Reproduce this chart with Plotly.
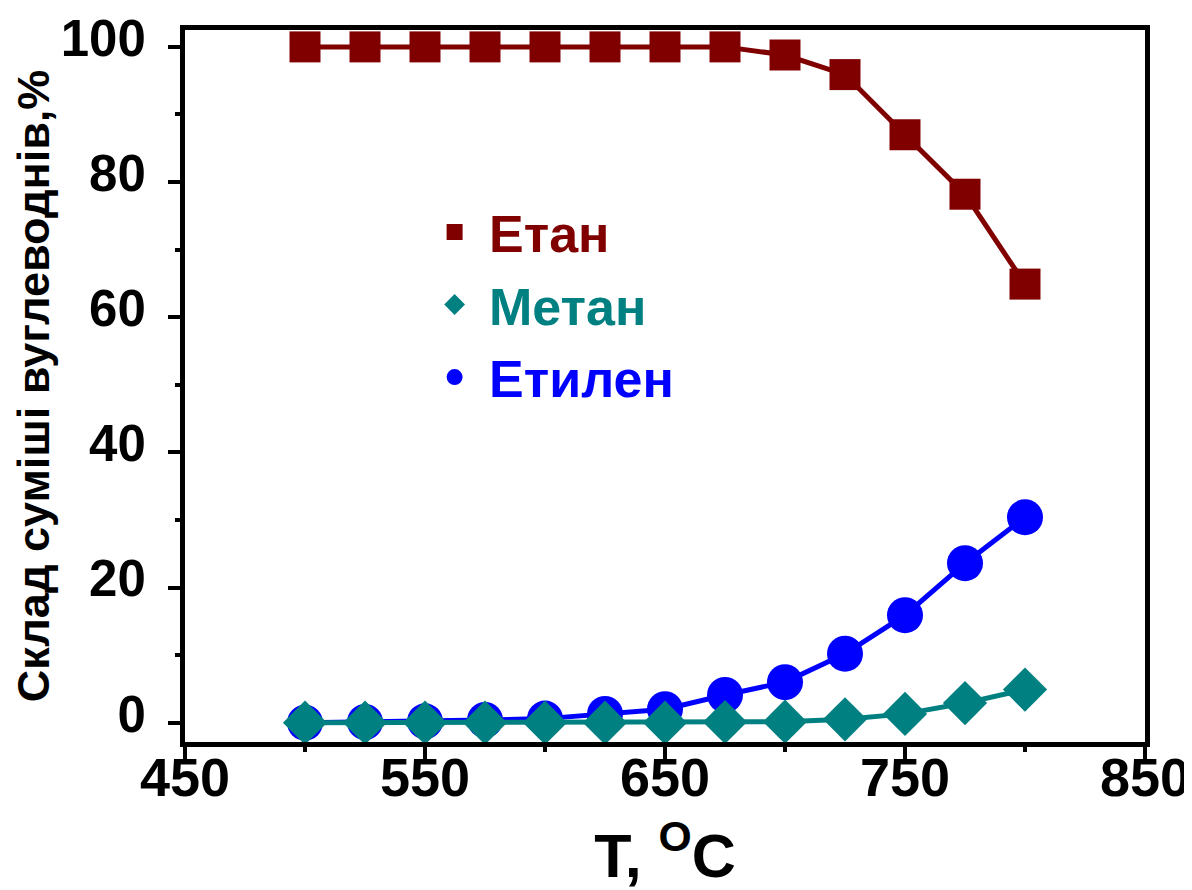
import plotly.graph_objects as go

temps = [500, 525, 550, 575, 600, 625, 650, 675, 700, 725, 750, 775, 800]
ethane = [100, 100, 100, 100, 100, 100, 100, 100, 98.8, 95.9, 87.0, 78.2, 64.9]
methane = [0, 0, 0, 0, 0, 0, 0, 0.1, 0.15, 0.5, 1.3, 2.9, 4.9]
ethylene = [0, 0.1, 0.2, 0.4, 0.6, 1.3, 2.0, 4.1, 6.0, 10.2, 15.9, 23.6, 30.4]

names = ["Етан", "Метан", "Етилен"]
colors = ["#800000", "#008080", "#0000FF"]
symbols = ["square", "diamond", "circle"]
sizes = [31, 34, 36]

FONT = "Liberation Sans, Arial, sans-serif"

fig = go.Figure()
# data traces: ethylene first, methane drawn over it, then ethane
for idx, ys in [(2, ethylene), (1, methane), (0, ethane)]:
    fig.add_trace(go.Scatter(
        x=temps, y=ys, mode="lines+markers", name=names[idx],
        showlegend=False,
        line=dict(color=colors[idx], width=5),
        marker=dict(symbol=symbols[idx], size=sizes[idx], color=colors[idx]),
        cliponaxis=False))

# legend entries (marker only, coloured text)
for idx in range(3):
    fig.add_trace(go.Scatter(
        x=[None], y=[None], mode="markers",
        name=f"<span style='color:{colors[idx]}'>\u00a0{names[idx]}</span>",
        marker=dict(symbol=symbols[idx], size=sizes[idx], color=colors[idx]),
        legendrank=idx + 1, legendgroup=str(idx), showlegend=True))

axis_common = dict(
    showline=True, linecolor="black", linewidth=5, mirror=True,
    showgrid=False, zeroline=False, automargin=False,
    ticks="outside", ticklen=12, tickwidth=4, tickcolor="black",
)

fig.update_xaxes(
    **axis_common,
    range=[450, 850], tickvals=[450, 550, 650, 750, 850],
    tickfont=dict(family=FONT, size=54, color="black", weight="bold"),
    ticklabelstandoff=-28,
    minor=dict(tickvals=[500, 600, 700, 800], ticklen=5, tickwidth=4,
               tickcolor="black", ticks="outside"),
    title=dict(text="T, <sup>O</sup>C", standoff=46,
               font=dict(family=FONT, size=61, color="black", weight="bold")),
)
fig.update_yaxes(
    **axis_common,
    range=[-2.86, 102.5], tickvals=[0, 20, 40, 60, 80, 100],
    tickfont=dict(family=FONT, size=51, color="black", weight="bold"),
    ticklabelstandoff=12, ticklabelshift=-9,
    minor=dict(tickvals=[10, 30, 50, 70, 90], ticklen=5, tickwidth=4,
               tickcolor="black", ticks="outside"),
    title=dict(text="Склад суміші вуглеводнів,%", standoff=15,
               font=dict(family=FONT, size=45, color="black", weight="bold")),
)

fig.update_layout(
    width=1184, height=882,
    margin=dict(l=177, r=47, t=22, b=148),
    paper_bgcolor="white", plot_bgcolor="white",
    showlegend=True,
    legend=dict(x=0.26, y=0.773, xanchor="left", yanchor="top",
                bgcolor="rgba(0,0,0,0)", tracegroupgap=2,
                font=dict(family=FONT, size=52, weight="bold"),
                itemsizing="trace"),
)

fig.write_html("out.html")
